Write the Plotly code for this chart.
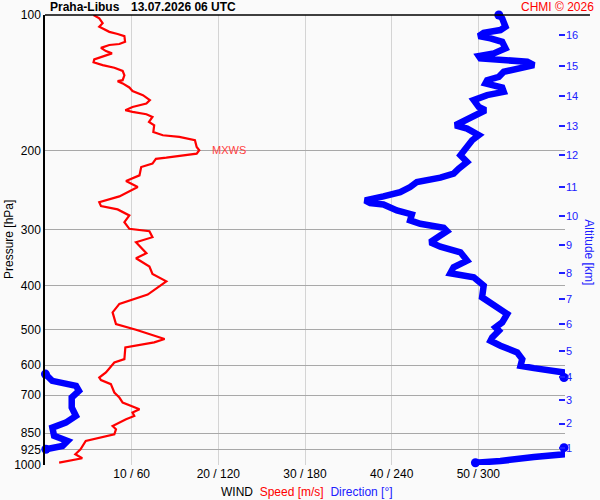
import numpy as np
import plotly.graph_objects as go

# wind speed profile (bottom -> top)
speed_p = [988.3, 966.2, 946.6, 922.8, 884.4, 869.6, 854.5, 832.8, 818.9, 791.2,
           777.9, 764.7, 751.5, 726.4, 708.1, 690.2, 661.1, 647.7, 639.1, 622.9,
           591.8, 581.7, 547.9, 534.0, 524.8, 500.4, 486.0, 458.0, 438.6, 418.2,
           402.9, 390.7, 376.1, 362.3, 347.2, 338.4, 319.8, 311.7, 302.3, 298.6,
           288.6, 278.9, 270.4, 265.9, 260.5, 253.0, 241.2, 233.9, 227.2, 217.7,
           213.9, 208.7, 207.5, 205.0, 203.3, 199.8, 196.5, 189.8, 186.6, 185.0,
           181.9, 175.8, 172.8, 168.5, 166.2, 164.2, 162.8, 160.1, 157.3, 154.6,
           150.7, 147.5, 144.9, 141.9, 140.3, 139.6, 136.1, 133.1, 131.0, 129.2,
           127.4, 125.5, 123.8, 121.7, 120.3, 118.3, 116.6, 116.0, 114.7, 111.4,
           110.2, 109.0, 106.2, 104.3, 101.7, 100.0]
speed_ms = [1.63, 4.3, 3.5, 4.1, 4.7, 6.26, 8.0, 8.19, 7.8, 9.35,
            10.3, 10.1, 10.9, 8.96, 8.58, 8.0, 7.6, 6.46, 6.26, 7.03,
            8.0, 9.16, 9.27, 12.6, 13.8, 10.5, 8.19, 7.8, 8.58, 11.85,
            13.0, 14.0, 12.4, 12.05, 10.5, 11.7, 10.5, 12.4, 12.05, 9.73,
            9.16, 9.73, 8.38, 6.46, 6.26, 8.58, 10.7, 9.35, 10.9, 11.1,
            12.4, 12.8, 14.0, 16.3, 17.5, 17.8, 17.5, 17.3, 15.5, 13.6,
            12.5, 12.6, 12.0, 12.4, 11.7, 10.1, 9.27, 10.1, 11.7, 12.1,
            11.3, 10.1, 9.73, 8.96, 8.38, 8.96, 9.16, 8.96, 8.0, 6.65,
            5.6, 5.68, 6.65, 7.73, 7.03, 6.46, 7.42, 8.58, 9.24, 9.16,
            8.38, 7.42, 6.26, 6.65, 6.26, 5.6]

# wind direction profile (bottom -> top)
dir_p = [988.3, 979.7, 960.0, 946.6, 915.1,
         922.8, 907.3, 884.4, 861.6, 826.0, 805.1, 777.9, 745.4, 708.1, 684.2,
         667.0, 661.1, 650.1, 628.1,
         639.1, 622.9, 609.1, 602.0, 581.7, 562.3, 543.1, 529.5, 520.6, 503.0,
         494.6, 482.2, 461.8, 442.5, 424.0, 399.4, 382.7, 374.9, 363.6, 351.3,
         336.7, 327.1, 319.8, 309.0, 302.3, 297.1, 291.1, 286.1, 277.5, 271.9,
         263.6, 261.9, 258.3, 253.0, 247.5, 241.2, 235.0, 229.8, 225.2, 219.5,
         212.2, 205.0, 196.5, 189.8, 185.0, 178.8, 175.8, 170.8, 167.0, 162.8,
         160.1, 154.6, 150.7, 148.2, 144.9, 141.9, 139.6, 137.2, 133.7, 131.4,
         129.2, 127.0, 125.9, 124.9, 123.4, 121.7, 118.6, 114.7, 112.7, 111.4,
         109.5, 108.0, 106.2, 101.7, 100.0]
dir_deg = [298, 315.3, 338.5, 359.3, 359.3,
           0.6, 12.1, 15.6, 6.3, 5.1, 14.4, 21.4, 18.5, 18.5, 23.5,
           21.5, 16.7, 5.0, 0.3,
           359.3, 359.3, 338.5, 329.2, 330.4, 326.9, 315.3, 308.4, 309.6, 314.2,
           311.9, 316.5, 320, 310.7, 302.6, 303.7, 296.8, 280.6, 282.9, 292.2,
           287.6, 273.7, 266.7, 273.7, 278.3, 276, 259.8, 252.8, 254, 243.6,
           234.3, 225.1, 221.6, 234.3, 245.9, 252.8, 257.5, 273.7, 282.9, 286.4,
           292.2, 287.6, 292.2, 295.7, 300.3, 292.2, 284.1, 292.2, 300.3, 304.9,
           300.3, 296.8, 306.1, 317.6, 316.5, 304.9, 306.1, 314.2, 317.6, 329.2,
           338.5, 333.9, 320, 301.4, 300.3, 310.7, 318.8, 316.5, 308.4, 300.3,
           303.7, 315.3, 318.8, 316.5, 314.2]

p_ticks = [100, 200, 300, 400, 500, 600, 700, 850, 925, 1000]
x_ticks = [10, 20, 30, 40, 50, 60]
x_labels = ["10 / 60", "20 / 120", "30 / 180", "40 / 240", "50 / 300", ""]

# pressure level of each altitude label on the right axis
alt_p = [915.1, 809.1, 717.5, 636.8, 559.4, 487.0, 428.3, 374.9,
         324.1, 279.3, 241.2, 205.0, 176.4, 151.2, 129.9, 110.8]
alt_km = [str(k) for k in range(1, 17)]

#%%
# split direction where it wraps through north
seg_x, seg_y, end_x, end_y = [], [], [], []
start = 0
for i in range(1, len(dir_deg) + 1):
    if i == len(dir_deg) or abs(dir_deg[i] - dir_deg[i - 1]) > 180:
        seg_x += dir_deg[start:i] + [None]
        seg_y += dir_p[start:i] + [None]
        end_x += [dir_deg[start], dir_deg[i - 1]]
        end_y += [dir_p[start], dir_p[i - 1]]
        start = i

imax = int(np.argmax(speed_ms))
s_max, p_max = speed_ms[imax], speed_p[imax]

FONT = "Liberation Sans, Arial, sans-serif"

fig = go.Figure()
fig.add_trace(go.Scatter(x=speed_ms, y=speed_p, mode="lines",
                         line=dict(color="#ff0000", width=2.2), xaxis="x", yaxis="y"))
fig.add_trace(go.Scatter(x=seg_x, y=seg_y, mode="lines", connectgaps=False,
                         line=dict(color="#0000ff", width=6.5), xaxis="x2", yaxis="y"))
fig.add_trace(go.Scatter(x=end_x, y=end_y, mode="markers", cliponaxis=False,
                         marker=dict(color="#0000ff", size=9), xaxis="x2", yaxis="y"))
# dummy trace so the altitude axis is drawn
fig.add_trace(go.Scatter(x=[None], y=[None], xaxis="x", yaxis="y2", showlegend=False))

fig.update_layout(
    width=600, height=500,
    margin=dict(l=45, r=35, t=15, b=35),
    paper_bgcolor="#fafafa", plot_bgcolor="#fafafa",
    showlegend=False,
    font=dict(family=FONT, size=12, color="black"),
    xaxis=dict(range=[0, 60], tickvals=x_ticks, ticktext=x_labels, showgrid=True,
               gridcolor="#d4d4d4", gridwidth=1, zeroline=False, showline=False,
               ticks="", tickfont=dict(size=12, color="black"), automargin=False),
    xaxis2=dict(range=[0, 360], overlaying="x", visible=False),
    yaxis=dict(type="log", range=[3, 2], tickvals=p_ticks, ticktext=[str(v) for v in p_ticks],
               showgrid=True, gridcolor="#a8a8a8", gridwidth=1, zeroline=False,
               showline=True, linecolor="black", linewidth=1.5, ticks="",
               tickfont=dict(size=12, color="black"), automargin=False),
    yaxis2=dict(type="log", range=[3, 2], overlaying="y", side="right",
                tickvals=alt_p, ticktext=alt_km, showgrid=False, zeroline=False,
                showline=False, ticks="inside", ticklen=6, tickwidth=1.5,
                tickcolor="#2020ff", tickfont=dict(size=11, color="#2020ff"),
                automargin=False),
)

fig.add_shape(type="line", xref="paper", yref="paper", x0=0, x1=1.048, y0=1, y1=1,
              line=dict(color="black", width=1.5))
# MXWS marks
fig.add_shape(type="line", xref="paper", yref="y", x0=-0.004, x1=0.021,
              y0=np.log10(p_max), y1=np.log10(p_max), line=dict(color="#ff0000", width=1.5))
fig.add_shape(type="line", xref="paper", yref="y", x0=0.981, x1=1.006,
              y0=np.log10(p_max), y1=np.log10(p_max), line=dict(color="#ff0000", width=1.5))
fig.add_shape(type="line", xref="x", yref="y", x0=s_max, x1=s_max + 1.2,
              y0=np.log10(p_max), y1=np.log10(p_max), line=dict(color="#ff4040", width=1.5))
fig.add_annotation(x=s_max + 1.2, y=np.log10(p_max), xref="x", yref="y", text="MXWS",
                   showarrow=False, xanchor="left", yanchor="middle",
                   font=dict(size=11, color="#ff4040"))

fig.add_annotation(x=0.006, y=1, xref="paper", yref="paper", text="<b>Praha-Libus</b>",
                   showarrow=False, xanchor="left", yanchor="bottom", yshift=-1,
                   font=dict(size=12, color="black"))
fig.add_annotation(x=0.161, y=1, xref="paper", yref="paper", text="<b>13.07.2026 06 UTC</b>",
                   showarrow=False, xanchor="left", yanchor="bottom", yshift=-1,
                   font=dict(size=12, color="black"))
fig.add_annotation(x=1.0596, y=1, xref="paper", yref="paper", text="CHMI © 2026",
                   showarrow=False, xanchor="right", yanchor="bottom", yshift=-1,
                   font=dict(size=12, color="#ff0000"))
fig.add_annotation(x=0.503, y=-0.06, xref="paper", yref="paper",
                   text="WIND  <span style='color:#ff0000'>Speed [m/s]</span>  "
                        "<span style='color:#2020ff'>Direction [°]</span>",
                   showarrow=False, xanchor="center", yanchor="middle",
                   font=dict(size=12, color="black"))
fig.add_annotation(x=-0.0692, y=0.5, xref="paper", yref="paper", text="Pressure [hPa]",
                   showarrow=False, textangle=-90, xanchor="center", yanchor="middle",
                   font=dict(size=12, color="black"))
fig.add_annotation(x=1.046, y=0.473, xref="paper", yref="paper", text="Altitude [km]",
                   showarrow=False, textangle=90, xanchor="center", yanchor="middle",
                   font=dict(size=12, color="#2020ff"))

# page body has a default margin; drop it so the figure sits at the window corner
fig.write_html("out.html", config={"displayModeBar": False},
               post_script="document.body.style.margin='0';")
